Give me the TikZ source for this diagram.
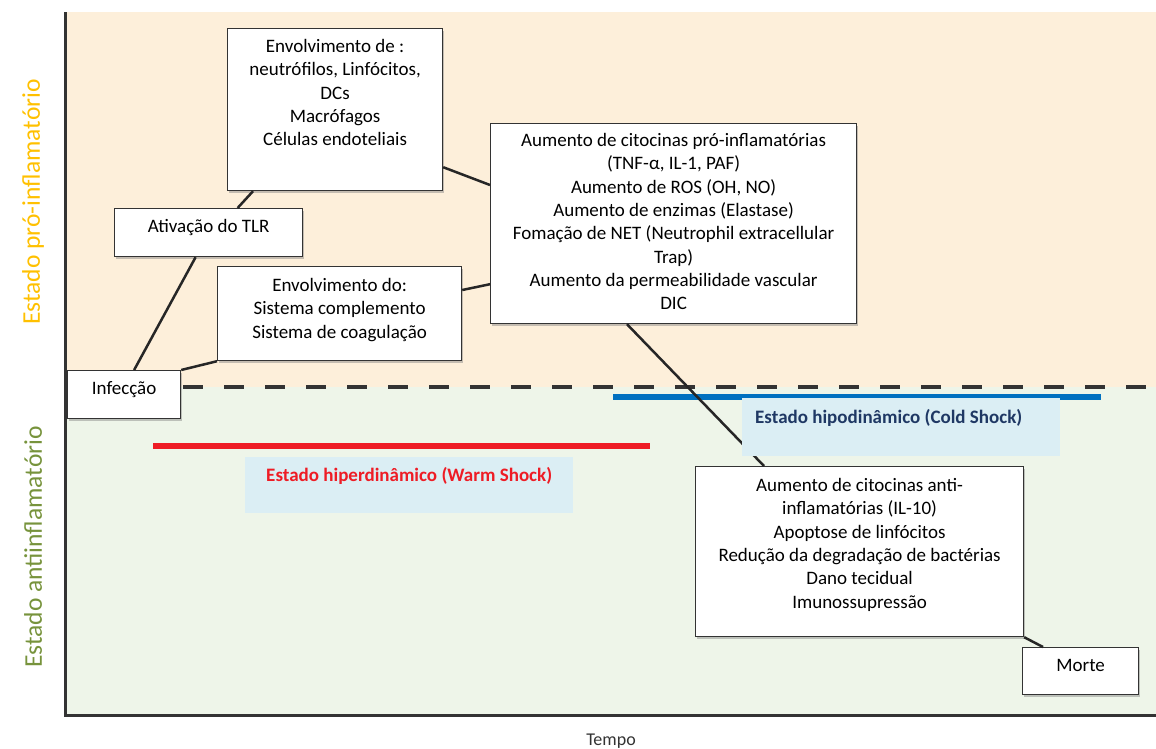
\documentclass[tikz,border=0pt]{standalone}
\usepackage{fontspec}
\setmainfont{Carlito}
\usetikzlibrary{shadows}
\definecolor{proback}{HTML}{FDEFDA}
\definecolor{antiback}{HTML}{EEF5E9}
\definecolor{prolabel}{HTML}{FFC000}
\definecolor{antilabel}{HTML}{77933C}
\definecolor{warmred}{HTML}{EE1C25}
\definecolor{coldblue}{HTML}{0070C0}
\definecolor{coldtext}{HTML}{1F3864}
\definecolor{shockfill}{HTML}{DBEEF4}
% width, height, first baseline, lines
\newcommand{\boxtext}[4]{\parbox[c][#2][t]{#1}{\centering\fontsize{19}{23.3}\selectfont\rule{0pt}{#3}#4}}
\begin{document}
\begin{tikzpicture}[
	x=1pt, y=-1pt,
	stepbox/.style={draw=black!80, line width=1.2pt, fill=white, inner sep=0pt, anchor=north west,
		drop shadow={shadow xshift=1pt, shadow yshift=-2pt, opacity=.45}},
	shockbox/.style={fill=shockfill, inner sep=0pt, anchor=north west},
	link/.style={line width=2.5pt, black!85},
	axis/.style={line width=3pt, black!80},
	]
\useasboundingbox (0,0) rectangle (1156,748);
% regions
\fill[proback] (67,12) rectangle (1156,387);
\fill[antiback] (67,387) rectangle (1156,715);
\draw[axis] (65,12) -- (65,715) -- (1156,715);
\node [rotate=90, text=prolabel, font=\fontsize{25.5}{30}\selectfont] (prolbl) at (33,202) {Estado pró-inflamatório};
\node [rotate=90, text=antilabel, font=\fontsize{25.5}{30}\selectfont] (antilbl) at (33,547) {Estado antiinflamatório};
\node [font=\fontsize{18}{20}\selectfont, text=black!80] (tempo) at (611,741) {Tempo};
\draw [line width=4pt, black!80, dash pattern=on 20pt off 21pt] (183,387) -- (1156,387);
% shock bars
\draw [line width=6pt, warmred] (153,446) -- (650,446);
\draw [line width=6pt, coldblue] (613,397) -- (1101,397);
% boxes
\node [stepbox] (infeccao) at (67,370) {\boxtext{113pt}{48pt}{24pt}{Infecção}};
\node [stepbox] (tlr) at (114,208) {\boxtext{188pt}{48pt}{24pt}{Ativação do TLR}};
\node [stepbox] (envde) at (227,28) {\boxtext{215pt}{162pt}{24pt}{Envolvimento de :\\ neutrófilos, Linfócitos,\\ DCs\\ Macrófagos\\ Células endoteliais}};
\node [stepbox] (envdo) at (217,266) {\boxtext{244pt}{94pt}{25pt}{Envolvimento do:\\ Sistema complemento\\ Sistema de coagulação}};
\node [stepbox] (pro) at (490,123) {\boxtext{366pt}{200pt}{23pt}{Aumento de citocinas pró-inflamatórias\\ (TNF-α, IL-1, PAF)\\ Aumento de ROS (OH, NO)\\ Aumento de enzimas (Elastase)\\ Fomação de NET (Neutrophil extracellular\\ Trap)\\ Aumento da permeabilidade vascular\\ DIC}};
\node [stepbox] (anti) at (695,466) {\boxtext{328pt}{170pt}{25pt}{Aumento de citocinas anti-\\ inflamatórias (IL-10)\\ Apoptose de linfócitos\\ Redução da degradação de bactérias\\ Dano tecidual\\ Imunossupressão}};
\node [stepbox] (morte) at (1022,647) {\boxtext{116pt}{47pt}{24pt}{Morte}};
% links
\draw [link] ([xshift=10pt]infeccao.north) -- ([xshift=-13pt]tlr.south);
\draw [link] (infeccao.north east) -- (envdo.south west);
\draw [link] ([xshift=29pt]tlr.north) -- ([xshift=26pt]envde.south west);
\draw [link] ([yshift=24pt]envde.south east) -- ([yshift=-62pt]pro.north west);
\draw [link] ([yshift=-24pt]envdo.north east) -- ([yshift=40pt]pro.south west);
\draw [link] ([xshift=137pt]pro.south west) -- ([xshift=69pt]anti.north west);
\draw [link] (anti.south east) -- ([xshift=21pt]morte.north west);
% shock labels
\node [shockbox] (warm) at (245,457) {\parbox[c][56pt][t]{328pt}{\centering\fontsize{19}{22}\selectfont\rule{0pt}{24pt}\textcolor{warmred}{\bfseries Estado hiperdinâmico (Warm Shock)}}};
\node [shockbox] (cold) at (742,398) {\parbox[c][58pt][t]{318pt}{\fontsize{19}{22}\selectfont\hspace*{13pt}\rule{0pt}{25pt}\textcolor{coldtext}{\bfseries Estado hipodinâmico (Cold Shock)}}};
\end{tikzpicture}
\end{document}
